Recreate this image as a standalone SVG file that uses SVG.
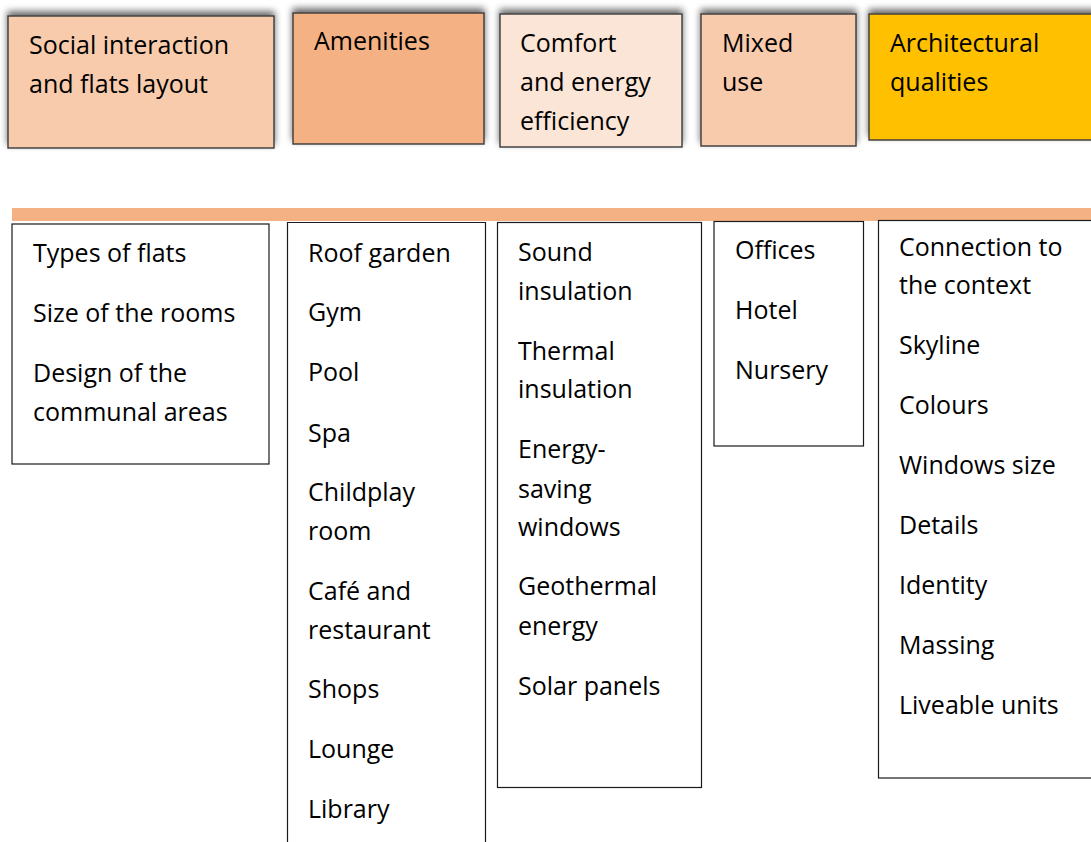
<svg xmlns="http://www.w3.org/2000/svg" width="1091" height="842" viewBox="0 0 1091 842">
  <defs>
    <filter id="shade" x="-10%" y="-25%" width="120%" height="140%">
      <feGaussianBlur in="SourceAlpha" stdDeviation="3.5"/>
      <feOffset dx="0" dy="-4"/>
      <feComponentTransfer><feFuncA type="linear" slope="0.6"/></feComponentTransfer>
      <feMerge><feMergeNode/><feMergeNode in="SourceGraphic"/></feMerge>
    </filter>
  </defs>
  <style>
    text { font-family: "Open Sans", "Liberation Sans", sans-serif; font-size: 25px; fill: #000; }
    .head { stroke: #3a3a3a; stroke-width: 1.4; }
    .list { fill: #fff; stroke: #1a1a1a; stroke-width: 1.2; }
  </style>
  <rect width="1091" height="842" fill="#fff"/>

  <!-- category headers -->
  <g id="head-social">
    <rect class="head" x="8" y="16" width="266" height="132" fill="#F8CBAD" filter="url(#shade)"/>
    <text x="29" y="54">Social interaction</text>
    <text x="29" y="93">and flats layout</text>
  </g>
  <g id="head-amenities">
    <rect class="head" x="293" y="13" width="191" height="131" fill="#F4B183" filter="url(#shade)"/>
    <text x="314" y="50">Amenities</text>
  </g>
  <g id="head-comfort">
    <rect class="head" x="500" y="14" width="182" height="133" fill="#FBE5D6" filter="url(#shade)"/>
    <text x="520" y="52">Comfort</text>
    <text x="520" y="91">and energy</text>
    <text x="520" y="130">efficiency</text>
  </g>
  <g id="head-mixed">
    <rect class="head" x="701" y="14" width="155" height="132" fill="#F8CBAD" filter="url(#shade)"/>
    <text x="722" y="52">Mixed</text>
    <text x="722" y="91">use</text>
  </g>
  <g id="head-architecture">
    <rect class="head" x="869" y="14" width="230" height="126" fill="#FFC000" filter="url(#shade)"/>
    <text x="890" y="52">Architectural</text>
    <text x="890" y="91">qualities</text>
  </g>

  <!-- divider band -->
  <g id="connectors">
    <rect x="12" y="208" width="1079" height="13" fill="#F4B183"/>
  </g>

  <!-- item lists -->
  <g id="list-social">
    <rect class="list" x="12" y="224" width="257" height="240"/>
    <text x="33" y="262">Types of flats</text>
    <text x="33" y="322">Size of the rooms</text>
    <text x="33" y="382">Design of the</text>
    <text x="33" y="421">communal areas</text>
  </g>
  <g id="list-amenities">
    <path class="list" d="M287.5 843 V222.5 H485.5 V843" fill="none"/>
    <text x="308" y="262">Roof garden</text>
    <text x="308" y="321">Gym</text>
    <text x="308" y="381">Pool</text>
    <text x="308" y="442">Spa</text>
    <text x="308" y="501">Childplay</text>
    <text x="308" y="540">room</text>
    <text x="308" y="600">Café and</text>
    <text x="308" y="639">restaurant</text>
    <text x="308" y="698">Shops</text>
    <text x="308" y="758">Lounge</text>
    <text x="308" y="818">Library</text>
  </g>
  <g id="list-comfort">
    <rect class="list" x="497.5" y="222.5" width="204" height="565"/>
    <text x="518" y="261">Sound</text>
    <text x="518" y="300">insulation</text>
    <text x="518" y="360">Thermal</text>
    <text x="518" y="398">insulation</text>
    <text x="518" y="458">Energy-</text>
    <text x="518" y="498">saving</text>
    <text x="518" y="536">windows</text>
    <text x="518" y="595">Geothermal</text>
    <text x="518" y="635">energy</text>
    <text x="518" y="695">Solar panels</text>
  </g>
  <g id="list-mixed">
    <rect class="list" x="714" y="221.5" width="149.5" height="224.5"/>
    <text x="735" y="259">Offices</text>
    <text x="735" y="319">Hotel</text>
    <text x="735" y="379">Nursery</text>
  </g>
  <g id="list-architecture">
    <rect class="list" x="878.5" y="220.5" width="220" height="557.5"/>
    <text x="899" y="256">Connection to</text>
    <text x="899" y="294">the context</text>
    <text x="899" y="354">Skyline</text>
    <text x="899" y="414">Colours</text>
    <text x="899" y="474">Windows size</text>
    <text x="899" y="534">Details</text>
    <text x="899" y="594">Identity</text>
    <text x="899" y="654">Massing</text>
    <text x="899" y="714">Liveable units</text>
  </g>
</svg>
